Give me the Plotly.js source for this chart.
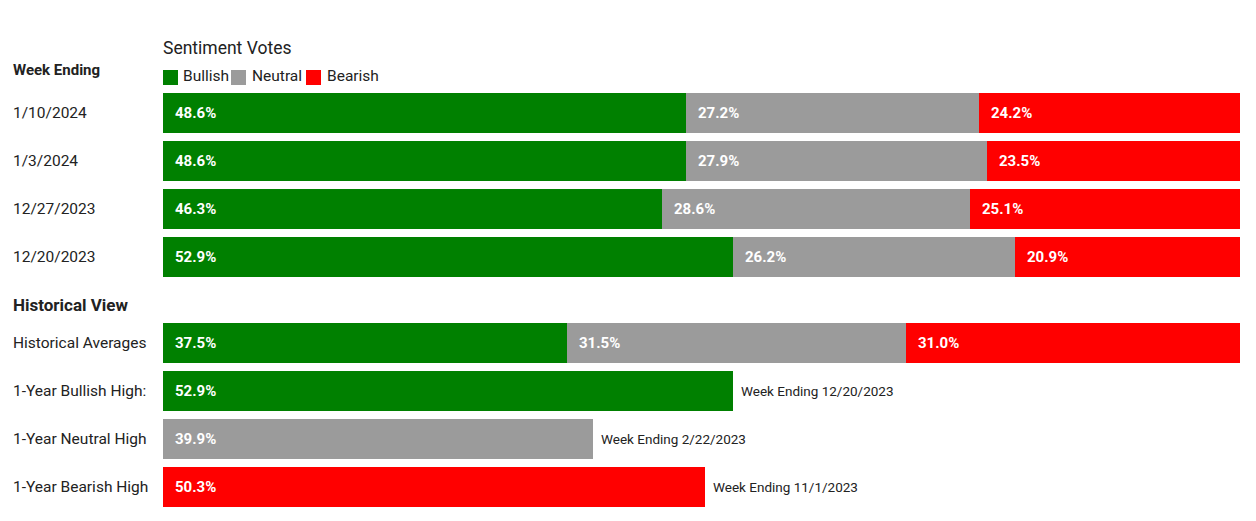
<!DOCTYPE html>
<html>
<head>
<meta charset="utf-8">
<script src="https://cdn.plot.ly/plotly-3.0.1.min.js"></script>
<style>html,body{margin:0;padding:0;background:#fff;}#chart{width:1256px;height:521px;}</style>
</head>
<body>
<div id="chart"></div>
<script>
// ---- data ----
const weeks = ['1/10/2024', '1/3/2024', '12/27/2023', '12/20/2023'];
const weekBullish = [48.6, 48.6, 46.3, 52.9];
const weekNeutral = [27.2, 27.9, 28.6, 26.2];
const weekBearish = [24.2, 23.5, 25.1, 20.9];

const histRows = ['Historical Averages', '1-Year Bullish High:', '1-Year Neutral High', '1-Year Bearish High'];
const histBullish = [37.5, 52.9, null, null];
const histNeutral = [31.5, null, 39.9, null];
const histBearish = [31.0, null, null, 50.3];
const histNotes = [null, 'Week Ending 12/20/2023', 'Week Ending 2/22/2023', 'Week Ending 11/1/2023'];

const seriesNames = ['Bullish', 'Neutral', 'Bearish'];
const colors = ['#008000', '#9b9b9b', '#ff0000'];

// ---- layout helpers ----
const W = 1256, H = 521, ML = 163, MR = 16;
const PW = W - ML - MR;
const px2x = p => (p - ML) / PW;
const py2y = p => 1 - p / H;
const FONT = 'Roboto, Arial, sans-serif';
const fmt = v => v.toFixed(1) + '%';

const traces = [];
const topSeries = [weekBullish, weekNeutral, weekBearish];
const botSeries = [histBullish, histNeutral, histBearish];
seriesNames.forEach((name, i) => {
  traces.push({type: 'bar', orientation: 'h', name: name, x: topSeries[i], y: weeks,
    xaxis: 'x', yaxis: 'y', marker: {color: colors[i]}, hoverinfo: 'x+name', showlegend: false});
  traces.push({type: 'bar', orientation: 'h', name: name, x: botSeries[i], y: histRows,
    xaxis: 'x', yaxis: 'y2', marker: {color: colors[i]}, hoverinfo: 'x+name', showlegend: false});
});

const annotations = [];
// in-bar value labels
function addValueLabels(cats, series, yref) {
  cats.forEach((c, r) => {
    let base = 0;
    series.forEach(s => {
      const v = s[r];
      if (v == null) return;
      annotations.push({xref: 'x', yref: yref, x: base, y: c, text: fmt(v), showarrow: false,
        xanchor: 'left', yanchor: 'middle', xshift: 10,
        font: {family: FONT, size: 15, color: '#ffffff', weight: 700}});
      base += v;
    });
  });
}
addValueLabels(weeks, topSeries, 'y');
addValueLabels(histRows, botSeries, 'y2');

// notes to right of single bars
histRows.forEach((c, r) => {
  if (!histNotes[r]) return;
  let total = 0;
  botSeries.forEach(s => { if (s[r] != null) total += s[r]; });
  annotations.push({xref: 'x', yref: 'y2', x: total, y: c, text: histNotes[r], showarrow: false,
    xanchor: 'left', yanchor: 'middle', xshift: 6,
    font: {family: FONT, size: 13.5, color: '#222222'}});
});

// row labels (left aligned)
const labelFont = {family: FONT, size: 15.5, color: '#222222'};
weeks.forEach(c => annotations.push({xref: 'paper', yref: 'y', x: px2x(11), y: c, text: c,
  showarrow: false, xanchor: 'left', yanchor: 'middle', font: labelFont}));
histRows.forEach(c => annotations.push({xref: 'paper', yref: 'y2', x: px2x(11), y: c, text: c,
  showarrow: false, xanchor: 'left', yanchor: 'middle', font: labelFont}));

// headers
annotations.push({xref: 'paper', yref: 'paper', x: px2x(11), y: py2y(70), text: 'Week Ending', showarrow: false,
  xanchor: 'left', yanchor: 'middle', font: {family: FONT, size: 15, color: '#222222', weight: 700}});
annotations.push({xref: 'paper', yref: 'paper', x: px2x(11), y: py2y(305), text: 'Historical View', showarrow: false,
  xanchor: 'left', yanchor: 'middle', font: {family: FONT, size: 17, color: '#222222', weight: 700}});
annotations.push({xref: 'paper', yref: 'paper', x: px2x(161), y: py2y(48), text: 'Sentiment Votes', showarrow: false,
  xanchor: 'left', yanchor: 'middle', font: {family: FONT, size: 17.5, color: '#222222'}});

// legend (manual, compact)
const shapes = [];
const legX = [163, 231, 306];
const legTextX = [181, 250, 325];
seriesNames.forEach((n, i) => {
  shapes.push({type: 'rect', xref: 'paper', yref: 'paper', x0: px2x(legX[i]), x1: px2x(legX[i] + 15),
    y0: py2y(85), y1: py2y(70), fillcolor: colors[i], line: {width: 0}});
  annotations.push({xref: 'paper', yref: 'paper', x: px2x(legTextX[i]), y: py2y(76), text: n, showarrow: false,
    xanchor: 'left', yanchor: 'middle', font: {family: FONT, size: 15.5, color: '#222222'}});
});

const layout = {
  width: W, height: H,
  margin: {l: ML, r: MR, t: 0, b: 0, pad: 0},
  paper_bgcolor: '#ffffff', plot_bgcolor: '#ffffff',
  barmode: 'stack', bargap: 8 / 48,
  showlegend: false,
  xaxis: {range: [0, 100], visible: false, fixedrange: true},
  yaxis: {domain: [py2y(281), py2y(89)], type: 'category', autorange: false, range: [3.5, -0.5],
    showticklabels: false, showgrid: false, zeroline: false, showline: false, ticks: ''},
  yaxis2: {domain: [py2y(511), py2y(319)], type: 'category', autorange: false, range: [3.5, -0.5],
    showticklabels: false, showgrid: false, zeroline: false, showline: false, ticks: ''},
  annotations: annotations,
  shapes: shapes,
  font: {family: FONT}
};

Plotly.newPlot('chart', traces, layout, {displayModeBar: false, staticPlot: true});
</script>
</body>
</html>
